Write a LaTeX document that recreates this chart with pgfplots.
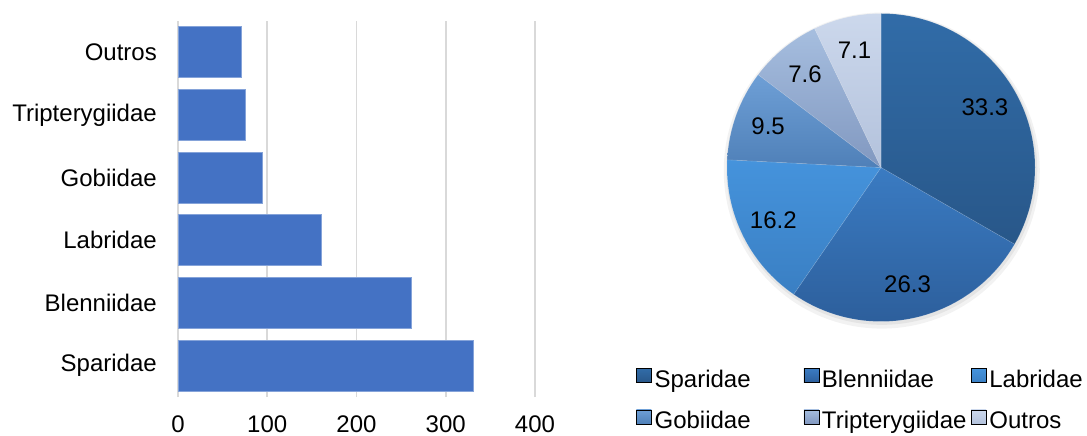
\documentclass[border=0pt]{standalone}
\usepackage{pgfplots}
\pgfplotsset{compat=1.18}
\usepackage{pgfplotstable}
\usepackage{fontspec}
\setmainfont{Liberation Sans}

\definecolor{barblue}{HTML}{4472C4}
\definecolor{gridgray}{HTML}{D9D9D9}
% slice colours (light top, darker bottom of each gradient)
\definecolor{pietop0}{HTML}{316CA8}\definecolor{piebot0}{HTML}{285789}
\definecolor{pietop1}{HTML}{3A7BC2}\definecolor{piebot1}{HTML}{2D5F9C}
\definecolor{pietop2}{HTML}{4593DC}\definecolor{piebot2}{HTML}{3A7FC3}
\definecolor{pietop3}{HTML}{6E9FD6}\definecolor{piebot3}{HTML}{4F80B8}
\definecolor{pietop4}{HTML}{A6BEDF}\definecolor{piebot4}{HTML}{8198C0}
\definecolor{pietop5}{HTML}{CCD8EC}\definecolor{piebot5}{HTML}{B3C2DC}

% counts per family and share of the total (%)
\pgfplotstableread{
family         count pct
Sparidae       331   33.3
Blenniidae     262   26.3
Labridae       161   16.2
Gobiidae       95    9.5
Tripterygiidae 76    7.6
Outros         71    7.1
}\fishdata

\pgfplotsset{
  pieleg/.style 2 args={legend image code/.code={%
      \shade[top color=#1,bottom color=#2] (0bp,-1bp) rectangle (15bp,13bp);}},
}

\begin{document}
\fontsize{24bp}{29bp}\selectfont
\begin{tikzpicture}
\path[use as bounding box] (0,0) rectangle (1087bp,436bp);

% ---- horizontal bars ----
\begin{axis}[
  at={(178bp,39bp)}, anchor=south west,
  scale only axis, width=357bp, height=376bp,
  xbar, bar width=51bp,
  xmin=0, xmax=400, xtick={0,100,...,400},
  ymin=-0.5, ymax=5.5, ytick={0,...,5},
  yticklabels from table={\fishdata}{family},
  xmajorgrids, major grid style={gridgray, line width=1.6bp},
  axis line style={draw=none}, major tick length=0pt,
  xticklabel style={anchor=north, inner sep=0pt, yshift=-19bp},
  yticklabel style={anchor=east, inner sep=0pt, xshift=-21bp},
  /pgf/number format/assume math mode=true,
]
\addplot[fill=barblue, draw=barblue!65!white, line width=0.8bp]
  table[x=count, y expr=\coordindex] {\fishdata};
\end{axis}

% ---- pie of percentages ----
\begin{axis}[
  at={(881bp,268.5bp)}, anchor=center,
  scale only axis, width=308bp, height=308bp,
  xmin=-1, xmax=1, ymin=-1, ymax=1,
  hide axis, clip=false,
  legend columns=3,
  legend cell align=left,
  legend style={at={(-0.2955,-0.1515)}, anchor=north west,
    draw=none, fill=none, inner sep=0pt,
    column sep=3bp, row sep=17bp,
    nodes={inner sep=0pt, text height=17bp, text depth=5bp}},
]
\addlegendimage{pieleg={pietop0}{piebot0}}\addlegendentry{\makebox[146bp][l]{Sparidae}}
\addlegendimage{pieleg={pietop1}{piebot1}}\addlegendentry{\makebox[146bp][l]{Blenniidae}}
\addlegendimage{pieleg={pietop2}{piebot2}}\addlegendentry{Labridae}
\addlegendimage{pieleg={pietop3}{piebot3}}\addlegendentry{\makebox[146bp][l]{Gobiidae}}
\addlegendimage{pieleg={pietop4}{piebot4}}\addlegendentry{\makebox[146bp][l]{Tripterygiidae}}
\addlegendimage{pieleg={pietop5}{piebot5}}\addlegendentry{Outros}

\pgfplotsextra{%
  % soft shadow under the pie
  \fill[black, opacity=0.05] (axis cs:0.005,-0.02) circle[radius=158bp];
  \fill[black, opacity=0.06] (axis cs:0.005,-0.012) circle[radius=155.5bp];
  \xdef\startang{90}%
  \foreach \i in {0,...,5} {%
    \pgfplotstablegetelem{\i}{pct}\of{\fishdata}%
    \let\p=\pgfplotsretval
    \pgfmathsetmacro{\endang}{\startang-3.6*\p}%
    \pgfmathsetmacro{\midang}{(\startang+\endang)/2}%
    \pgfmathsetmacro{\sx}{cos(\startang)}%
    \pgfmathsetmacro{\sy}{sin(\startang)}%
    \pgfmathsetmacro{\lx}{0.78*cos(\midang)}%
    \pgfmathsetmacro{\ly}{0.78*sin(\midang)}%
    \shade[top color=pietop\i, bottom color=piebot\i]
      (axis cs:0,0) -- (axis cs:\sx,\sy)
      arc[start angle=\startang, end angle=\endang, radius=154bp] -- cycle;
    \draw[white, opacity=0.15, line width=0.6bp]
      (axis cs:0,0) -- (axis cs:\sx,\sy)
      arc[start angle=\startang, end angle=\endang, radius=154bp] -- cycle;
    \node[inner sep=0pt] at (axis cs:\lx,\ly) {\p};
    \xdef\startang{\endang}%
  }%
}
\end{axis}
\end{tikzpicture}
\end{document}
